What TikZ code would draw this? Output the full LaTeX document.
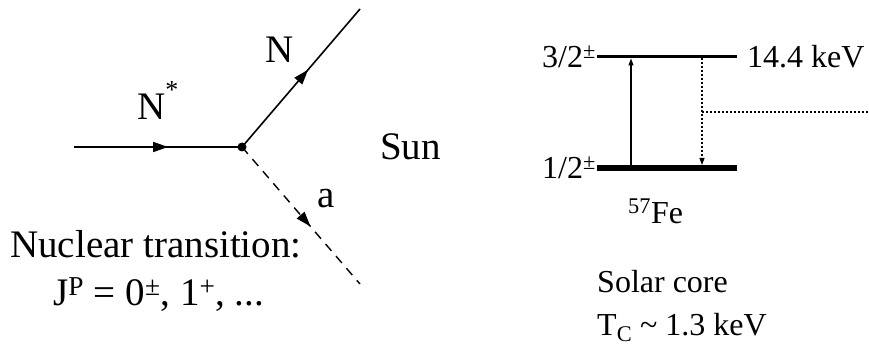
\documentclass[tikz,border=0pt]{standalone}
\usepackage{fontspec}
\setmainfont{Liberation Serif}
\usetikzlibrary{arrows.meta,decorations.markings}

\begin{document}
\begin{tikzpicture}[
  x=1pt,y=-1pt,
  leg/.style={line width=1.6pt},
  axion/.style={line width=1.4pt,dash pattern=on 9pt off 7pt},
  midarrow/.style={postaction={decorate},
    decoration={markings,mark=at position #1 with {\arrow{Triangle[length=15pt,width=10pt]}}}},
  lbl/.style={inner sep=0pt,font=\fontsize{39}{44}\selectfont},
  small/.style={inner sep=0pt,font=\fontsize{32}{36}\selectfont},
  level/.style={line width=#1},
  trans/.style={line width=1.1pt},
  dots/.style={line width=1.1pt,dash pattern=on 2pt off 2pt}
]
\useasboundingbox (0,0) rectangle (869,347);

% decay vertex
\node[circle,fill,inner sep=0pt,minimum size=9pt] (vertex) at (242,147) {};
\coordinate (nin) at (74,147);
\coordinate (nout) at (360,9);
\coordinate (aout) at (360,284);
\draw[leg,midarrow=0.56] (nin) -- (vertex.center);
\draw[leg,midarrow=0.56] (vertex.center) -- (nout);
\draw[axion,midarrow=0.58] (vertex.center) -- (aout);

\node[lbl,anchor=base west] (nstar) at (137,120) {N\raisebox{0.55em}{\fontsize{26}{28}\selectfont *}};
\node[lbl,anchor=base west] (nlab) at (265,63) {N};
\node[lbl,anchor=base west] (alab) at (317,208) {a};
\node[lbl,anchor=base west] (sun) at (380,160) {Sun};
\node[lbl,anchor=base west] (nucl) at (10,258) {Nuclear transition:};
\node[lbl,anchor=base west] (jp) at (53,305) {J\textsuperscript{P} = 0\textsuperscript{±}, 1\textsuperscript{+}, ...};

% 57Fe levels
\coordinate (up-l) at (597,57);
\coordinate (up-r) at (737,57);
\coordinate (lo-l) at (597,168);
\coordinate (lo-r) at (737,168);
\draw[level=3pt] (up-l) -- (up-r);
\draw[level=6pt] (lo-l) -- (lo-r);
\coordinate (abs-lo) at (631,168);
\coordinate (abs-up) at (631,58.5);
\coordinate (em-up) at (702,58.5);
\coordinate (em-lo) at (702,165);
\coordinate (em-mid) at (702,112);
\coordinate (em-out) at (869,112);
\draw[trans,-{Triangle[length=7pt,width=5pt]}] (abs-lo) -- (abs-up);
\draw[dots,-{Triangle[length=7pt,width=5pt]}] (em-up) -- (em-lo);
\draw[dots] (em-mid) -- (em-out);

\node[small,anchor=base east] (spin32) at (596,68) {3/2\textsuperscript{±}};
\node[small,anchor=base east] (spin12) at (596,179) {1/2\textsuperscript{±}};
\node[small,anchor=base west] (energy) at (747,68) {14.4 keV};
\node[small,anchor=base west] (iso) at (628,223) {\textsuperscript{57}Fe};
\node[small,anchor=base west] (core) at (597,292) {Solar core};
\node[small,anchor=base west] (temp) at (597,335) {T\textsubscript{C} \textasciitilde{} 1.3 keV};
\end{tikzpicture}
\end{document}
